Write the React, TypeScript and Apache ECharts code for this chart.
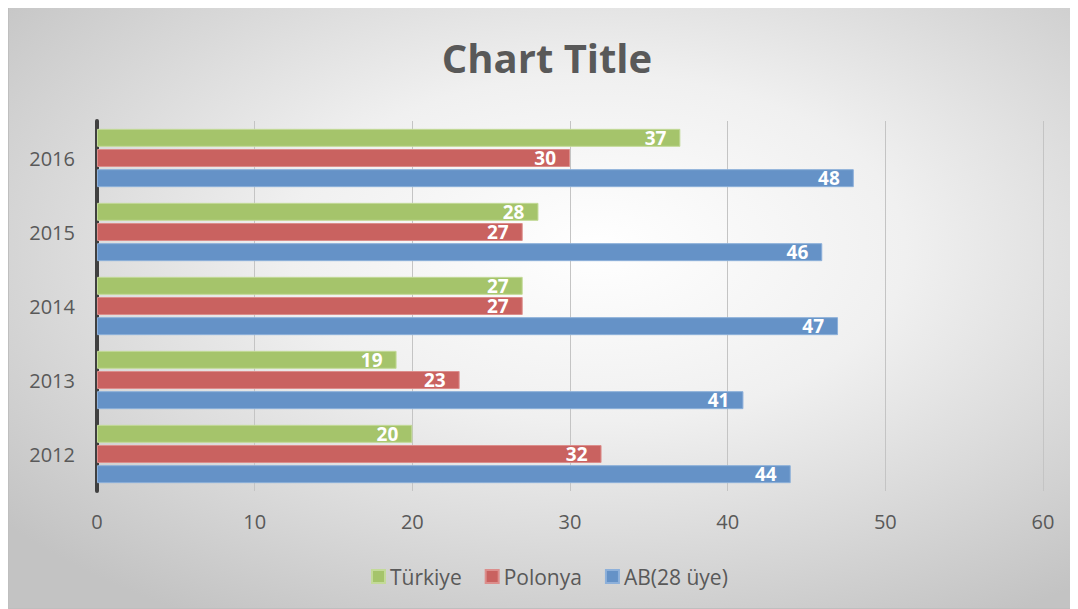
import React, { useEffect, useRef } from "react";
import * as echarts from "echarts";

const categories = ["2012", "2013", "2014", "2015", "2016"];
const turkiye = [20, 19, 27, 28, 37];
const polonya = [32, 23, 27, 27, 30];
const ab = [44, 41, 47, 46, 48];
const seriesNames = ["Türkiye", "Polonya", "AB(28 üye)"];
const xTicks = { min: 0, max: 60, interval: 10 };

export default function App() {
  const ref = useRef<HTMLDivElement>(null);
  useEffect(() => {
    if (!ref.current) return;
    const chart = echarts.init(ref.current, undefined, { renderer: "svg" });
    const font = "'Open Sans', 'Noto Sans', sans-serif";
    const label = {
      show: true,
      position: "insideRight",
      color: "#ffffff",
      fontWeight: "bold",
      fontSize: 19,
      lineHeight: 18,
      fontFamily: font,
      distance: 14,
    } as any;
    const mk = (name: string, data: number[], color: string, border: string) => ({
      name,
      type: "bar",
      data,
      barWidth: 18,
      barGap: "12%",
      itemStyle: { color, borderColor: border, borderWidth: 1 },
      label,
    });
    chart.setOption({
      animation: false,
      backgroundColor: new echarts.graphic.RadialGradient(0.55, 0.4, 0.72, [
        { offset: 0, color: "#ffffff" },
        { offset: 0.4, color: "#f0f0f0" },
        { offset: 1, color: "#c3c3c3" },
      ]),
      title: {
        text: "Chart Title",
        left: 533,
        top: 24,
        textAlign: "center",
        textStyle: { fontSize: 40, fontWeight: "bold", color: "#595959", fontFamily: font },
      },
      legend: {
        data: seriesNames,
        bottom: 16,
        left: 357,
        itemWidth: 13,
        itemHeight: 13,
        itemGap: 23,
        icon: "rect",
        textStyle: { fontSize: 21, color: "#595959", fontFamily: font },
      },
      grid: { left: 88, right: 36, top: 113, bottom: 117 },
      xAxis: {
        type: "value",
        min: xTicks.min,
        max: xTicks.max,
        interval: xTicks.interval,
        axisLine: { show: false },
        axisTick: { show: false },
        axisLabel: { fontSize: 20, color: "#595959", fontFamily: font, margin: 20 },
        splitLine: { show: true, lineStyle: { color: "#c4c4c4", width: 1 } },
      },
      yAxis: {
        type: "category",
        data: categories,
        axisLine: { show: true, lineStyle: { color: "#404040", width: 4 } },
        axisTick: { show: false },
        axisLabel: { fontSize: 20, color: "#595959", fontFamily: font, margin: 22 },
      },
      series: [
        mk(seriesNames[0], turkiye, "#a5c46b", "#c3da98"),
        mk(seriesNames[1], polonya, "#c96260", "#dc8e8c"),
        mk(seriesNames[2], ab, "#6592c7", "#8db0da"),
      ],
    });
    return () => chart.dispose();
  }, []);
  return (
    <div style={{ position: "relative", height: 601 }}>
      <div
        style={{
          position: "absolute",
          left: 100,
          top: -17,
          fontFamily: "'Liberation Serif', serif",
          fontWeight: "bold",
          fontSize: 24,
          lineHeight: "24px",
          whiteSpace: "nowrap",
          color: "#000",
          zIndex: 0,
        }}
      >
        Türkiye Polonya AB Karşılaştırması
      </div>
      <div
        ref={ref}
        style={{
          position: "absolute",
          left: 0,
          top: -1,
          width: 1072,
          height: 602,
          border: "1px solid #bfbfbf",
          boxSizing: "border-box",
          zIndex: 1,
        }}
      />
    </div>
  );
}
